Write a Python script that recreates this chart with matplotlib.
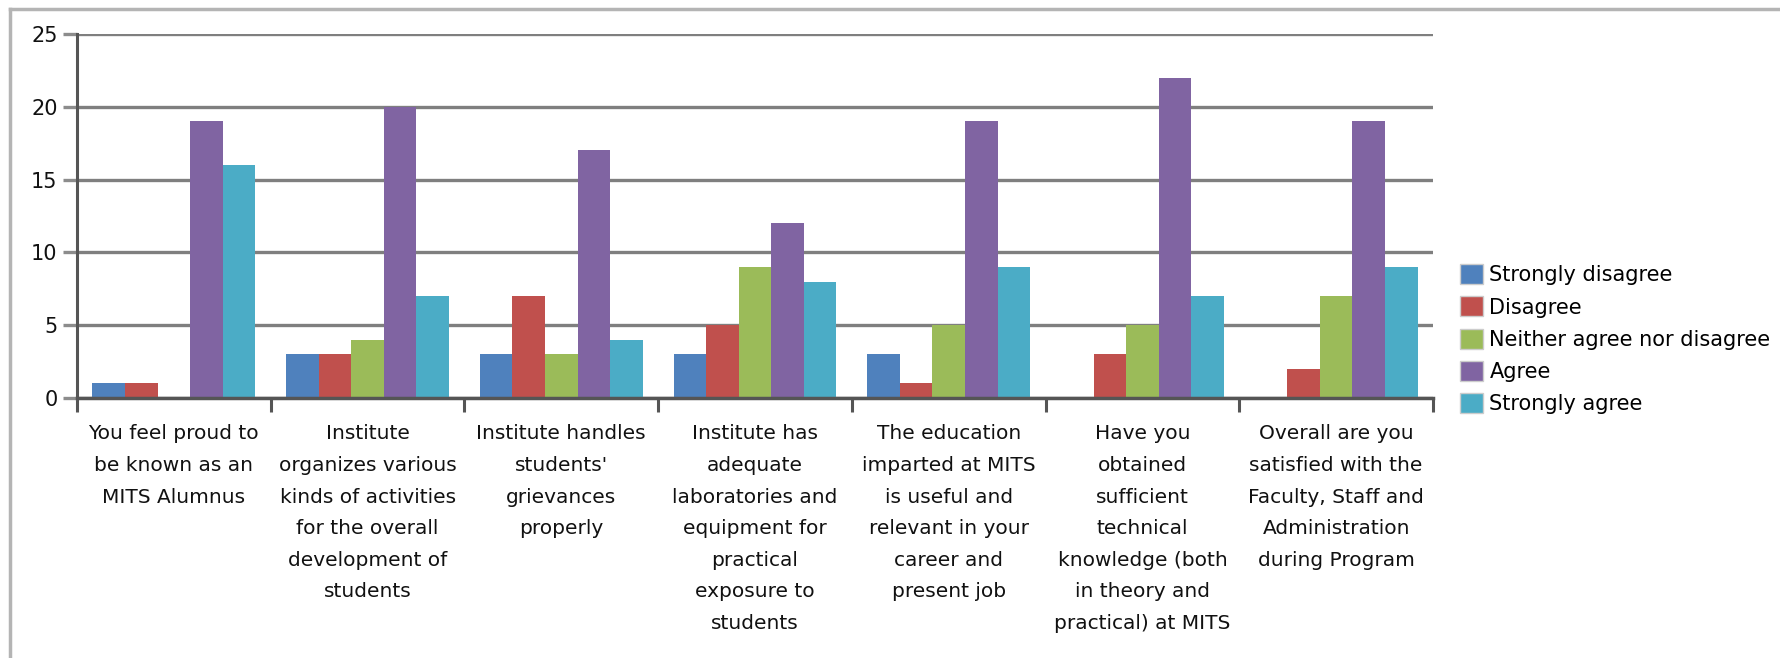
import matplotlib.pyplot as plt
import numpy as np
from matplotlib.patches import Patch
from matplotlib.lines import Line2D

questions = [
    "You feel proud to\nbe known as an\nMITS Alumnus",
    "Institute\norganizes various\nkinds of activities\nfor the overall\ndevelopment of\nstudents",
    "Institute handles\nstudents'\ngrievances\nproperly",
    "Institute has\nadequate\nlaboratories and\nequipment for\npractical\nexposure to\nstudents",
    "The education\nimparted at MITS\nis useful and\nrelevant in your\ncareer and\npresent job",
    "Have you\nobtained\nsufficient\ntechnical\nknowledge (both\nin theory and\npractical) at MITS",
    "Overall are you\nsatisfied with the\nFaculty, Staff and\nAdministration\nduring Program",
]
responses = ["Strongly disagree", "Disagree", "Neither agree nor disagree",
             "Agree", "Strongly agree"]
strongly_disagree = [1, 3, 3, 3, 3, 0, 0]
disagree = [1, 3, 7, 5, 1, 3, 2]
neither = [0, 4, 3, 9, 5, 5, 7]
agree = [19, 20, 17, 12, 19, 22, 19]
strongly_agree = [16, 7, 4, 8, 9, 7, 9]
colors = ["#4F81BD", "#C0504D", "#9BBB59", "#8064A2", "#4BACC6"]

plt.rcParams['font.family'] = ['DejaVu Sans']

W, H = 1781, 658
fig = plt.figure(figsize=(W / 100, H / 100), dpi=100)

# thin grey frame on top and left like the source screenshot
fig.add_artist(Line2D([10 / W, 10 / W], [0, 1 - 9 / H], color="#b4b4b4", lw=2.5))
fig.add_artist(Line2D([10 / W, 1], [1 - 9 / H, 1 - 9 / H], color="#b4b4b4", lw=2.5))

ax = fig.add_axes([77 / W, 1 - 398 / H, (1433 - 77) / W, (398 - 34) / H])

series = [strongly_disagree, disagree, neither, agree, strongly_agree]
x = np.arange(len(questions))
bw = 0.168
for i, vals in enumerate(series):
    ax.bar(x + (i - 2) * bw, vals, width=bw, color=colors[i], zorder=3,
           label=responses[i])

ax.set_xlim(-0.5, len(questions) - 0.5)
ax.set_ylim(0, 25)
ax.set_yticks(range(0, 26, 5))
ax.yaxis.grid(True, color="#7f7f7f", lw=2.4, zorder=1)
ax.tick_params(axis="y", length=10, width=2.4, color="#8c8c8c",
               labelsize=15, labelcolor="#111111", pad=4)

ax.set_xticks(x, questions)
ax.tick_params(axis="x", which="major", length=0, pad=19, labelsize=14.5,
               labelcolor="#111111")
ax.set_xticks(np.arange(len(questions) + 1) - 0.5, minor=True)
ax.tick_params(axis="x", which="minor", length=10, width=2.2, color="#555555")
for lab in ax.get_xticklabels():
    lab.set_linespacing(1.84)

for s in ["top", "right"]:
    ax.spines[s].set_visible(False)
ax.spines["left"].set_color("#555555")
ax.spines["left"].set_linewidth(2.2)
ax.spines["bottom"].set_color("#555555")
ax.spines["bottom"].set_linewidth(2.5)
ax.spines["bottom"].set_zorder(4)

handles = [Patch(facecolor=c, edgecolor="#cccccc") for c in colors]
fig.legend(handles, responses, loc="upper left",
           bbox_to_anchor=(1452 / W, 1 - 256 / H), frameon=False,
           fontsize=15, handlelength=1.1, handleheight=1.1,
           handletextpad=0.3, labelspacing=0.53, borderaxespad=0)

fig.savefig("out.png", dpi=100)
